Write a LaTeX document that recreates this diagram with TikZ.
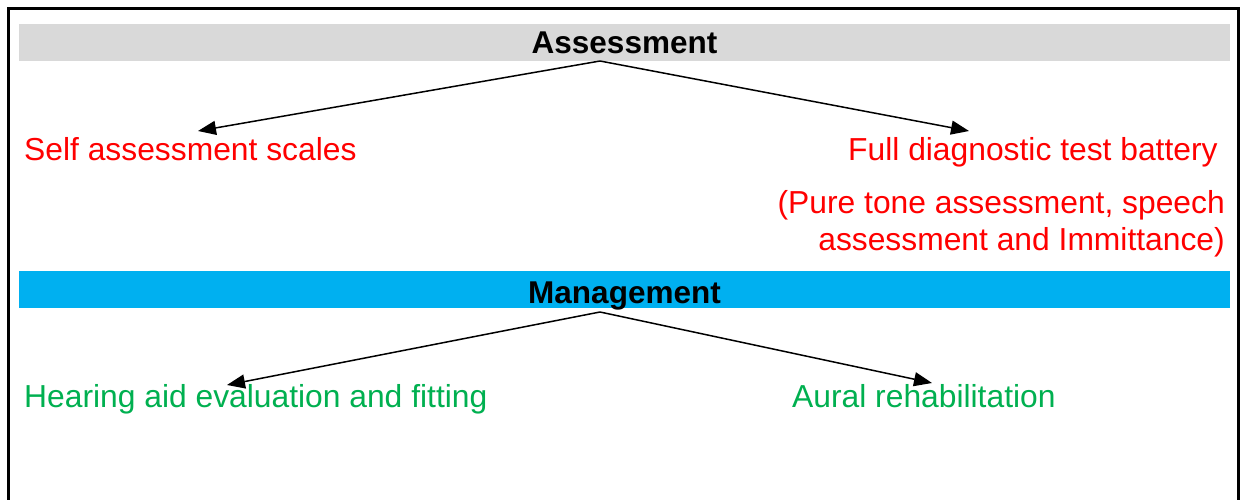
\documentclass[tikz,border=0pt]{standalone}
\usepackage{fontspec}
\setmainfont{Liberation Sans}
\usetikzlibrary{arrows.meta}
\definecolor{barGray}{RGB}{217,217,217}
\definecolor{barBlue}{RGB}{0,176,240}
\definecolor{txtRed}{RGB}{255,0,0}
\definecolor{txtGreen}{RGB}{0,176,80}
\tikzset{
  bar/.style={rectangle, inner sep=0pt, minimum width=1211pt, minimum height=37pt,
    font=\fontsize{31.5}{37}\selectfont\bfseries, text height=23pt, text depth=0pt},
  redtxt/.style={inner sep=0pt, text=txtRed, font=\fontsize{31.8}{37}\selectfont},
  greentxt/.style={inner sep=0pt, text=txtGreen, font=\fontsize{31.8}{37}\selectfont},
  link/.style={draw=black, line width=1.5pt,
    -{Triangle[length=18pt,width=14pt]}},
  frameline/.style={line width=2.6pt}
}
\begin{document}
\begin{tikzpicture}[x=1pt,y=-1pt]
\useasboundingbox (0,0) rectangle (1241,500);
\fill[white] (0,0) rectangle (1241,500);

% outer frame (open at the bottom)
\draw[frameline] (8.7,500) -- (8.7,8.7) -- (1238.5,8.7) -- (1238.5,500);

% headings
\node[bar, fill=barGray] (assess) at (624.5,42.5) {Assessment};
\node[bar, fill=barBlue, text height=27pt] (manage) at (624.5,289.5) {Management};

% assessment branch
\node[redtxt, anchor=base west] (self) at (24,160.5) {Self assessment scales};
\node[redtxt, anchor=base west] (full) at (848,160.5) {Full diagnostic test battery};
\node[redtxt, anchor=base east] (pure1) at (1225,213.5) {(Pure tone assessment, speech};
\node[redtxt, anchor=base east] (pure2) at (1225,250.5) {assessment and Immittance)};

% management branch
\node[greentxt, anchor=base west] (aid) at (24,407.5) {Hearing aid evaluation and fitting};
\node[greentxt, anchor=base west] (aural) at (792,407.5) {Aural rehabilitation};

% connector ends
\coordinate (aTop) at (600,61);
\coordinate (selfTip) at (198,131);
\coordinate (fullTip) at (969,131);
\coordinate (mTop) at (600,312);
\coordinate (aidTip) at (227,385);
\coordinate (auralTip) at (932,383);

\draw[link] (aTop) -- (selfTip);
\draw[link] (aTop) -- (fullTip);
\draw[link] (mTop) -- (aidTip);
\draw[link] (mTop) -- (auralTip);
\end{tikzpicture}
\end{document}
